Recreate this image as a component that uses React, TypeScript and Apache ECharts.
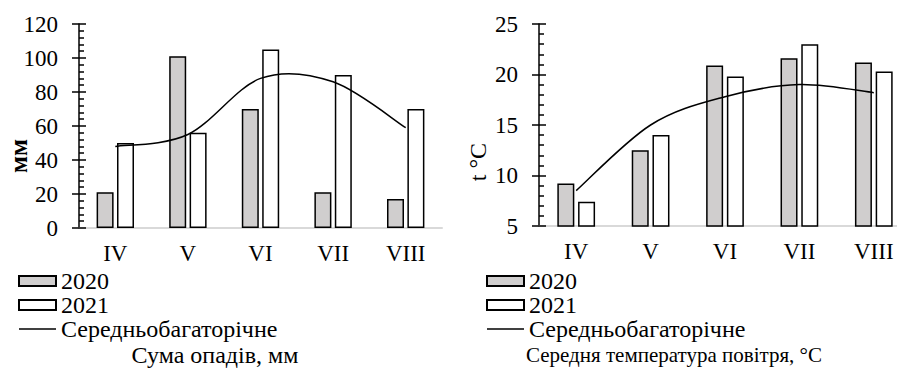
import React, { useEffect, useRef } from "react";
import * as echarts from "echarts";

const categories = ["IV", "V", "VI", "VII", "VIII"];
const precip2020 = [21, 101, 70, 21, 17];
const precip2021 = [50, 56, 105, 90, 70];
const precipNorm = [48, 55, 88, 86, 59];
const temp2020 = [9.2, 12.5, 20.9, 21.6, 21.2];
const temp2021 = [7.4, 14.0, 19.8, 23.0, 20.3];
const tempNorm = [8.5, 15.0, 17.8, 19.0, 18.2];
const legendNames = ["2020", "2021", "Середньобагаторічне"];
const leftTitle = "Сума опадів, мм";
const rightTitle = "Середня температура повітря, °C";
const leftAxisName = "мм";
const rightAxisName = "t °C";

const FONT = "Liberation Serif";
const GRAY = "#d0cece";

function smoothPath(pts: number[][]): string {
  let d = `M${pts[0][0]},${pts[0][1]}`;
  for (let i = 0; i < pts.length - 1; i++) {
    const p0 = pts[Math.max(0, i - 1)];
    const p1 = pts[i];
    const p2 = pts[i + 1];
    const p3 = pts[Math.min(pts.length - 1, i + 2)];
    const c1x = p1[0] + (p2[0] - p0[0]) / 6;
    const c1y = p1[1] + (p2[1] - p0[1]) / 6;
    const c2x = p2[0] - (p3[0] - p1[0]) / 6;
    const c2y = p2[1] - (p3[1] - p1[1]) / 6;
    d += ` C${c1x},${c1y} ${c2x},${c2y} ${p2[0]},${p2[1]}`;
  }
  return d;
}

export default function App() {
  const ref = useRef<HTMLDivElement>(null);
  useEffect(() => {
    document.body.style.margin = "0";
    const chart = echarts.init(ref.current!, undefined, { renderer: "svg" });
    const xAxisBase = (gridIndex: number) => ({
      type: "category",
      gridIndex,
      data: categories,
      axisLine: { lineStyle: { color: "#d9d9d9", width: 2 } },
      axisTick: { show: false },
      axisLabel: { color: "#000", fontFamily: FONT, fontSize: 23, margin: 14 },
    });
    const yMain = (gridIndex: number, min: number, max: number, interval: number) => ({
      type: "value",
      gridIndex,
      position: "left",
      offset: 0,
      min,
      max,
      interval,
      axisLine: { show: true, lineStyle: { color: "#000", width: 1.5 } },
      axisTick: { show: true, inside: true, length: 7, lineStyle: { color: "#000", width: 1.5 } },
      minorTick: { show: true, splitNumber: 5, length: 5, lineStyle: { color: "#000", width: 1.5 } },
      splitLine: { show: false },
      axisLabel: { color: "#000", fontFamily: FONT, fontSize: 23, margin: 21 },
    });
    const yExtra = (gridIndex: number, min: number, max: number, interval: number) => ({
      type: "value",
      gridIndex,
      position: "left",
      offset: 0,
      min,
      max,
      interval,
      axisLine: { show: false },
      axisTick: { show: true, inside: false, length: 7, lineStyle: { color: "#000", width: 1.5 } },
      splitLine: { show: false },
      axisLabel: { show: false },
    });
    const barStyle = (color: string) => ({ color, borderColor: "#000", borderWidth: 1.5 });
    const legendBase = (left: number) => ({
      orient: "vertical",
      left,
      top: 269,
      padding: 0,
      itemWidth: 37,
      itemHeight: 10,
      itemGap: 0,
      data: [
        { name: legendNames[0], icon: "rect" },
        { name: legendNames[1], icon: "rect" },
        { name: legendNames[2], icon: "path://M0,0H40V1.5H0Z" },
      ],
      selectedMode: false,
      textStyle: { color: "#000", fontFamily: FONT, fontSize: 24 },
    });
    const curveSeries = (axis: number, values: number[]) => ({
      name: legendNames[2],
      type: "custom",
      xAxisIndex: axis,
      yAxisIndex: axis,
      data: values.map((v, i) => [i, v]),
      encode: { x: 0, y: 1 },
      itemStyle: { color: "#000" },
      silent: true,
      z: 5,
      renderItem: (params: any, api: any) => {
        if (params.dataIndex !== 0) return null;
        const pts = values.map((v, i) => api.coord([i, v]));
        return {
          type: "path",
          shape: { pathData: smoothPath(pts) },
          style: { stroke: "#000", lineWidth: 1.5, fill: "none" },
        };
      },
    });
    chart.setOption({
      animation: false,
      grid: [
        { left: 79, top: 24, width: 363, height: 204 },
        { left: 539, top: 24, width: 372, height: 202 },
      ],
      xAxis: [xAxisBase(0), xAxisBase(1)],
      yAxis: [yMain(0, 0, 120, 20), yMain(1, 5, 25, 5), yExtra(0, 0, 120, 20), yExtra(1, 5, 25, 5)],
      legend: [legendBase(18), legendBase(486)],
      series: [
        { name: "2020", type: "bar", xAxisIndex: 0, yAxisIndex: 0, data: precip2020, barWidth: 17, barGap: "20%", itemStyle: barStyle(GRAY) },
        { name: "2021", type: "bar", xAxisIndex: 0, yAxisIndex: 0, data: precip2021, barWidth: 17, barGap: "20%", itemStyle: barStyle("#fff") },
        curveSeries(0, precipNorm),
        { name: "2020", type: "bar", xAxisIndex: 1, yAxisIndex: 1, data: temp2020, barWidth: 17, barGap: "22%", itemStyle: barStyle(GRAY) },
        { name: "2021", type: "bar", xAxisIndex: 1, yAxisIndex: 1, data: temp2021, barWidth: 17, barGap: "22%", itemStyle: barStyle("#fff") },
        curveSeries(1, tempNorm),
      ],
      graphic: [
        { type: "text", x: 215, y: 355, style: { text: leftTitle, fill: "#000", font: `24px ${FONT}`, align: "center", verticalAlign: "middle" } },
        { type: "text", x: 674, y: 355, style: { text: rightTitle, fill: "#000", font: `21px ${FONT}`, align: "center", verticalAlign: "middle" } },
        { type: "text", x: 18, y: 156, rotation: Math.PI / 2, style: { text: leftAxisName, fill: "#000", font: `bold 25px ${FONT}`, align: "center", verticalAlign: "middle" } },
        { type: "text", x: 478, y: 162, rotation: Math.PI / 2, style: { text: rightAxisName, fill: "#000", font: `24px ${FONT}`, align: "center", verticalAlign: "middle" } },
      ],
    });
    return () => chart.dispose();
  }, []);
  return (
    <div style={{ width: 897, height: 385, overflow: "hidden" }}>
      <div ref={ref} style={{ width: 940, height: 385 }} />
    </div>
  );
}
